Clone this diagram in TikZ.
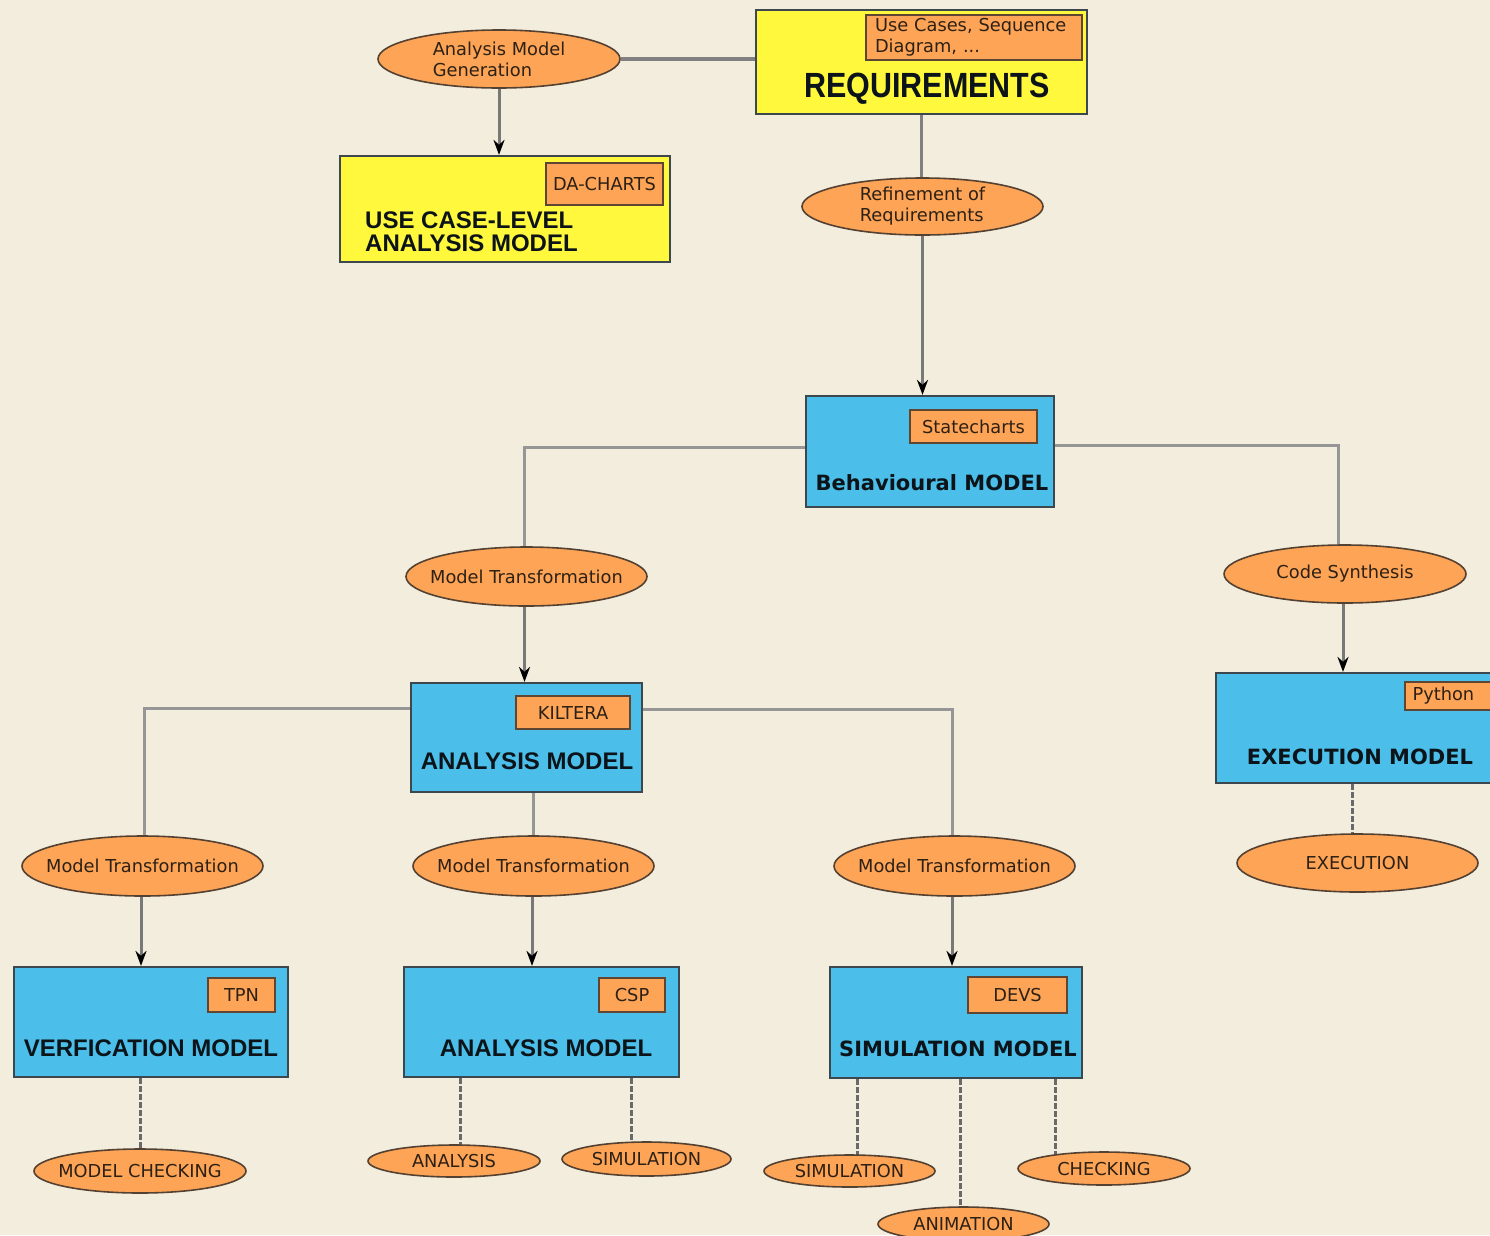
\documentclass[tikz,border=0pt]{standalone}
\usepackage{fontspec}
\setmainfont{DejaVu Sans}
\newfontfamily\arialfont{Liberation Sans}
\newfontfamily\reqfont[FakeStretch=0.87]{Liberation Sans}
\usetikzlibrary{shapes.geometric,arrows.meta,calc}
\definecolor{bgc}{RGB}{242,237,220}
\definecolor{orng}{RGB}{253,164,86}
\definecolor{blu}{RGB}{75,190,233}
\definecolor{yel}{RGB}{255,248,60}
\definecolor{boxb}{RGB}{60,72,78}
\definecolor{tagb}{RGB}{95,70,50}
\definecolor{ellb}{RGB}{85,65,50}
\definecolor{txt}{RGB}{45,32,20}
\definecolor{ttxt}{RGB}{12,20,25}
\definecolor{gry}{RGB}{150,150,150}
\definecolor{dgry}{RGB}{105,105,105}
\newcommand\smtext{\fontsize{17.8}{21}\selectfont}
\newcommand\titA{\fontsize{24}{23}\selectfont\arialfont\bfseries}
\newcommand\titV{\fontsize{21}{24}\selectfont\bfseries}
\newcommand\titR{\fontsize{35}{36}\selectfont\reqfont\bfseries}
\pgfdeclarelayer{bgl}
\pgfsetlayers{bgl,main}
\tikzset{
  ell/.style={ellipse, draw=ellb, line width=1.6pt, fill=orng, inner xsep=-40pt, inner ysep=0pt,
    font=\smtext, text=txt, align=center},
  ybox/.style={rectangle, draw=boxb, line width=2.2pt, fill=yel, inner sep=0pt},
  bbox/.style={rectangle, draw=boxb, line width=2.2pt, fill=blu, inner sep=0pt},
  tag/.style={rectangle, draw=tagb, line width=1.8pt, fill=orng, inner sep=0pt,
    font=\smtext, text=txt},
  ttlA/.style={inner sep=0pt, font=\titA, text=ttxt},
  ttlV/.style={inner sep=0pt, font=\titV, text=ttxt},
  conn/.style={draw=gry, line width=3pt},
  conntop/.style={draw=gry!85!black, line width=3.5pt},
  arr/.style={draw=gry!80!black, line width=3pt, -{Stealth[length=15pt,width=11pt,color=black]}},
  dsh/.style={draw=dgry, line width=3pt, dash pattern=on 6pt off 2pt}
}
\begin{document}
\begin{tikzpicture}[x=1pt,y=-1pt]
\useasboundingbox (0,0) rectangle (1490,1235);
\clip (0,0) rectangle (1490,1235);

% top
\node[ybox, minimum width=331pt, minimum height=104pt] (req) at (921.5,62) {};
\node[tag, minimum width=216pt, minimum height=45pt, text width=198pt, align=left] (reqtag) at (974,37.5) {Use Cases, Sequence\\Diagram, ...};
\node[inner sep=0pt, font=\titR, text=ttxt] (reqtxt) at (927,89) {REQUIREMENTS};

\node[ell, minimum width=242pt, minimum height=58pt, align=left] (amg) at (499,59) {Analysis Model\\Generation};

\node[ybox, minimum width=330pt, minimum height=106pt] (ucl) at (505,209) {};
\node[tag, minimum width=117pt, minimum height=42pt] (datag) at (604.5,184) {DA-CHARTS};
\node[ttlA, anchor=west, align=left] (ucltxt) at (365,232) {USE CASE-LEVEL\\ANALYSIS MODEL};

\node[ell, minimum width=241pt, minimum height=57pt, align=left] (ror) at (922.5,206.5) {Refinement of\\Requirements};

% behavioural
\node[bbox, minimum width=248pt, minimum height=111pt] (beh) at (930,451.5) {};
\node[tag, minimum width=127pt, minimum height=33pt] (stag) at (973.5,426.5) {Statecharts};
\node[ttlV] (behtxt) at (932,483) {Behavioural MODEL};

\node[ell, minimum width=241pt, minimum height=59pt] (mt1) at (526.5,576.5) {Model Transformation};
\node[ell, minimum width=242pt, minimum height=58pt] (cs) at (1345,574) {Code Synthesis};

% analysis (kiltera)
\node[bbox, minimum width=231pt, minimum height=109pt] (am) at (526.5,737.5) {};
\node[tag, minimum width=114pt, minimum height=33pt] (ktag) at (573,712.5) {KILTERA};
\node[ttlA] (amtxt) at (527,761) {ANALYSIS MODEL};

% execution
\node[bbox, minimum width=284pt, minimum height=110pt] (ex) at (1358,728) {};
\node[tag, minimum width=95pt, minimum height=28pt, text width=80pt, align=left] (ptag) at (1452.5,696) {Python};
\node[ttlV] (extxt) at (1360,757) {EXECUTION MODEL};
\node[ell, minimum width=241pt, minimum height=58pt] (exe) at (1357.5,863) {EXECUTION};

% model transformations
\node[ell, minimum width=241pt, minimum height=60pt] (mt2) at (142.5,866) {Model Transformation};
\node[ell, minimum width=241pt, minimum height=60pt] (mt3) at (533.5,866) {Model Transformation};
\node[ell, minimum width=241pt, minimum height=60pt] (mt4) at (954.5,866) {Model Transformation};

% bottom boxes
\node[bbox, minimum width=274pt, minimum height=110pt] (ver) at (151,1022) {};
\node[tag, minimum width=67pt, minimum height=34pt] (tpn) at (241.5,995) {TPN};
\node[ttlA] (vertxt) at (151,1048) {VERFICATION MODEL};

\node[bbox, minimum width=275pt, minimum height=110pt] (csp) at (541.5,1022) {};
\node[tag, minimum width=66pt, minimum height=34pt] (csptag) at (632,995) {CSP};
\node[ttlA] (csptxt) at (546,1048) {ANALYSIS MODEL};

\node[bbox, minimum width=252pt, minimum height=111pt] (sim) at (956,1022.5) {};
\node[tag, minimum width=99pt, minimum height=36pt] (devs) at (1017.5,995) {DEVS};
\node[ttlV] (simtxt) at (958,1049) {SIMULATION MODEL};

% leaves
\node[ell, minimum width=212pt, minimum height=44pt] (mc) at (140,1171) {MODEL CHECKING};
\node[ell, minimum width=172pt, minimum height=32pt] (ana) at (454,1161) {ANALYSIS};
\node[ell, minimum width=169pt, minimum height=34pt] (sim1) at (646.5,1159) {SIMULATION};
\node[ell, minimum width=171pt, minimum height=32pt] (sim2) at (849.5,1171) {SIMULATION};
\node[ell, minimum width=171pt, minimum height=34pt] (anim) at (963.5,1224) {ANIMATION};
\node[ell, minimum width=172pt, minimum height=33pt] (chk) at (1104,1168.5) {CHECKING};

\begin{pgfonlayer}{bgl}
\fill[bgc] (0,0) rectangle (1490,1235);
\draw[conntop] (amg.east) -- (req.west |- amg.east);
\draw[conntop] (req.south) -- (req.south |- ror.center);
\draw[conn] ([yshift=4pt]beh.west) -| ([xshift=-2pt]mt1.center);
\draw[conn] ([yshift=6pt]beh.east) -| ([xshift=-7pt]cs.center);
\draw[conn] ([yshift=29pt]am.west) -| ([xshift=1.5pt]mt2.center);
\draw[conn] ([yshift=28pt]am.east) -| ([xshift=-2.5pt]mt4.center);
\draw[conn] (mt3.center |- am.south) -- (mt3.center);
\draw[dsh] ([xshift=-5.5pt]exe.center |- ex.south) -- ([xshift=-5.5pt]exe.center);
\draw[dsh] (mc.center |- ver.south) -- (mc.center);
\draw[dsh] ([xshift=6pt]ana.center |- csp.south) -- ([xshift=6pt]ana.center);
\draw[dsh] ([xshift=-15.5pt]sim1.center |- csp.south) -- ([xshift=-15.5pt]sim1.center);
\draw[dsh] ([xshift=7.5pt]sim2.center |- sim.south) -- ([xshift=7.5pt]sim2.center);
\draw[dsh] ([xshift=-3.5pt]anim.center |- sim.south) -- ([xshift=-3.5pt]anim.center);
\draw[dsh] ([xshift=-49pt]chk.center |- sim.south) -- ([xshift=-49pt]chk.center);
\end{pgfonlayer}

\draw[arr] (amg.south) -- (amg.south |- ucl.north);
\draw[arr] (ror.south) -- (ror.south |- beh.north);
\draw[arr] ([xshift=-2pt]mt1.south) -- ([xshift=-2pt]mt1.south |- am.north);
\draw[arr] ([xshift=-2pt]cs.south) -- ([xshift=-2pt]cs.south |- ex.north);
\draw[arr] ([xshift=-1.5pt]mt2.south) -- ([xshift=-1.5pt]mt2.south |- ver.north);
\draw[arr] ([xshift=-1.5pt]mt3.south) -- ([xshift=-1.5pt]mt3.south |- csp.north);
\draw[arr] ([xshift=-2.5pt]mt4.south) -- ([xshift=-2.5pt]mt4.south |- sim.north);
\end{tikzpicture}
\end{document}
